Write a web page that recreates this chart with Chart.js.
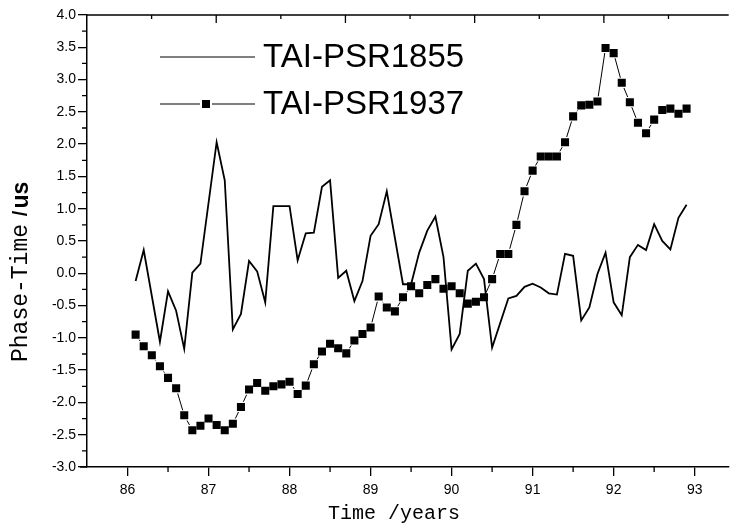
<!DOCTYPE html>
<html><head><meta charset="utf-8">
<script src="https://cdn.jsdelivr.net/npm/chart.js@4.4.1/dist/chart.umd.min.js"></script>
<style>html,body{margin:0;padding:0;background:#fff;overflow:hidden}#c{display:block}</style>
</head><body>
<canvas id="c" width="736" height="526"></canvas>
<script>
const seriesNames = ['TAI-PSR1855', 'TAI-PSR1937'];
const xTitle = 'Time /years';
const yTitleMain = 'Phase-Time ';
const yTitleSlash = '/';
const yTitleUnit = 'us';

const psr1855Years = [86.1,86.2,86.4,86.5,86.6,86.7,86.8,86.9,87.1,87.2,87.3,87.4,87.5,87.6,87.7,87.8,88.0,88.1,88.2,88.3,88.4,88.5,88.6,88.7,88.8,88.9,89.0,89.1,89.2,89.4,89.5,89.6,89.7,89.8,89.9,90.0,90.1,90.2,90.3,90.4,90.5,90.7,90.8,90.9,91.0,91.1,91.2,91.3,91.4,91.5,91.6,91.7,91.8,91.9,92.0,92.1,92.2,92.3,92.4,92.5,92.6,92.7,92.8,92.9];
const psr1855Values = [-0.12,0.36,-1.06,-0.28,-0.58,-1.17,0.01,0.15,2.03,1.44,-0.87,-0.63,0.19,0.03,-0.45,1.04,1.04,0.20,0.62,0.63,1.34,1.44,-0.07,0.04,-0.43,-0.12,0.58,0.76,1.27,-0.17,-0.17,0.32,0.66,0.88,0.25,-1.18,-0.94,0.04,0.15,-0.09,-1.15,-0.39,-0.35,-0.21,-0.16,-0.22,-0.31,-0.33,0.30,0.27,-0.73,-0.53,-0.01,0.32,-0.45,-0.65,0.25,0.44,0.36,0.76,0.50,0.37,0.86,1.06];

const psr1937Years = [86.1,86.2,86.3,86.4,86.5,86.6,86.7,86.8,86.9,87.0,87.1,87.2,87.3,87.4,87.5,87.6,87.7,87.8,87.9,88.0,88.1,88.2,88.3,88.4,88.5,88.6,88.7,88.8,88.9,89.0,89.1,89.2,89.3,89.4,89.5,89.6,89.7,89.8,89.9,90.0,90.1,90.2,90.3,90.4,90.5,90.6,90.7,90.8,90.9,91.0,91.1,91.2,91.3,91.4,91.5,91.6,91.7,91.8,91.9,92.0,92.1,92.2,92.3,92.4,92.5,92.6,92.7,92.8,92.9];
const psr1937Values = [-0.95,-1.13,-1.27,-1.44,-1.62,-1.78,-2.20,-2.43,-2.36,-2.25,
  -2.35,-2.43,-2.33,-2.07,-1.80,-1.70,-1.82,-1.75,-1.72,-1.68,
  -1.87,-1.74,-1.41,-1.21,-1.09,-1.16,-1.24,-1.04,-0.94,-0.84,
  -0.36,-0.53,-0.59,-0.37,-0.20,-0.31,-0.18,-0.09,-0.24,-0.20,
  -0.31,-0.47,-0.44,-0.37,-0.09,0.30,0.30,0.75,1.27,1.59,
  1.81,1.81,1.81,2.03,2.43,2.60,2.61,2.66,3.49,3.41,
  2.95,2.65,2.33,2.17,2.38,2.53,2.55,2.47,2.55];

const xTickValues = [86,87,88,89,90,91,92,93];
const xMinorTickValues = [86.5,87.5,88.5,89.5,90.5,91.5,92.5];
const yTickValues = [-3.0,-2.5,-2.0,-1.5,-1.0,-0.5,0.0,0.5,1.0,1.5,2.0,2.5,3.0,3.5,4.0];
const yMinorTickValues = [-2.75,-2.25,-1.75,-1.25,-0.75,-0.25,0.25,0.75,1.25,1.75,2.25,2.75,3.25,3.75];
const topMajorTicks = [1,2,3,4];
const topMinorTicks = [0.5,1.5,2.5,3.5,4.5];

const data1855 = psr1855Years.map((x, i) => ({x: x, y: psr1855Values[i]}));
const data1937 = psr1937Years.map((x, i) => ({x: x, y: psr1937Values[i]}));

const decor = {
  id: 'decor',
  afterDraw(chart) {
    const ctx = chart.ctx;
    const a = chart.chartArea;
    const xs = chart.scales.x, ys = chart.scales.y, xt = chart.scales.xt;
    ctx.save();
    ctx.strokeStyle = '#000';
    ctx.fillStyle = '#000';
    ctx.lineWidth = 1.5;
    ctx.beginPath();
    ctx.moveTo(a.left - 7, a.bottom); ctx.lineTo(a.left, a.bottom);
    ctx.moveTo(a.left, a.top); ctx.lineTo(a.right, a.top);
    ctx.stroke();
    ctx.lineWidth = 1.3;
    ctx.beginPath();
    const topPx = v => (xt && isFinite(xt.getPixelForValue(v))) ? xt.getPixelForValue(v) : a.left + v * (a.right - a.left) / 4.966;
    topMajorTicks.forEach(v => { const p = topPx(v); ctx.moveTo(p, a.top); ctx.lineTo(p, a.top + 8); });
    topMinorTicks.forEach(v => { const p = topPx(v); if (p < a.right) { ctx.moveTo(p, a.top); ctx.lineTo(p, a.top + 4); } });
    xMinorTickValues.forEach(v => { const p = xs.getPixelForValue(v); ctx.moveTo(p, a.bottom); ctx.lineTo(p, a.bottom + 5); });
    yMinorTickValues.forEach(v => { const p = ys.getPixelForValue(v); ctx.moveTo(a.left - 5, p); ctx.lineTo(a.left, p); });
    ctx.stroke();

    ctx.font = '20px "Liberation Mono"';
    ctx.textAlign = 'center';
    ctx.textBaseline = 'middle';
    ctx.fillText(xTitle, 394, 514);

    ctx.save();
    ctx.translate(21, 362);
    ctx.rotate(-Math.PI / 2);
    ctx.textAlign = 'left';
    ctx.textBaseline = 'middle';
    ctx.font = '23px "Liberation Mono"';
    ctx.fillText(yTitleMain, 0, 0);
    let off = ctx.measureText(yTitleMain).width - 6;
    ctx.font = 'bold 20px "Liberation Sans"';
    ctx.fillText(yTitleSlash, off, 0);
    off += ctx.measureText(yTitleSlash).width + 2;
    ctx.font = 'bold 23px "Liberation Sans"';
    ctx.fillText(yTitleUnit, off, 1);
    ctx.restore();

    ctx.lineWidth = 1.2;
    ctx.beginPath();
    ctx.moveTo(160, 57); ctx.lineTo(255, 57);
    ctx.moveTo(160, 104); ctx.lineTo(200, 104);
    ctx.moveTo(212, 104); ctx.lineTo(255, 104);
    ctx.stroke();
    ctx.fillRect(202, 100, 8, 8);
    ctx.font = '33px "Liberation Sans"';
    ctx.textAlign = 'left';
    ctx.textBaseline = 'middle';
    ctx.fillText(seriesNames[0], 263, 58);
    ctx.fillText(seriesNames[1], 263, 105);
    ctx.restore();
  }
};

new Chart(document.getElementById('c'), {
  type: 'line',
  data: {
    datasets: [
      {label: seriesNames[0], data: data1855, xAxisID: 'x', yAxisID: 'y', borderColor: '#000', borderWidth: 1.8, pointRadius: 0, tension: 0, order: 2},
      {label: seriesNames[1] + ' gap', data: data1937, xAxisID: 'x', yAxisID: 'y', borderColor: '#000', borderWidth: 1, pointStyle: 'rect', pointRadius: 7.3, pointBackgroundColor: '#fff', pointBorderWidth: 0, tension: 0, order: 3},
      {label: seriesNames[1], data: data1937, xAxisID: 'x', yAxisID: 'y', showLine: false, pointStyle: 'rect', pointRadius: 5.7, pointBackgroundColor: '#000', pointBorderWidth: 0, order: 1}
    ]
  },
  options: {
    responsive: false,
    animation: false,
    layout: {padding: {top: 15, left: 0, right: 0, bottom: 0}},
    plugins: {legend: {display: false}, tooltip: {enabled: false}},
    scales: {
      x: {
        type: 'linear', position: 'bottom', min: 85.5, max: 93.42,
        afterBuildTicks: s => { s.ticks = xTickValues.map(v => ({value: v})); },
        afterFit: s => { s.height = 59; },
        ticks: {color: '#000', font: {family: 'Liberation Sans', size: 14}, padding: 6, maxRotation: 0, autoSkip: false, callback: v => String(v)},
        grid: {display: true, drawOnChartArea: false, drawTicks: true, tickLength: 9, color: '#000', lineWidth: 1.3},
        border: {display: true, color: '#000', width: 1.5}
      },
      xt: {type: 'linear', position: 'top', min: 0, max: 4.966, display: false},
      y: {
        type: 'linear', position: 'left', min: -3, max: 4,
        afterBuildTicks: s => { s.ticks = yTickValues.map(v => ({value: v})); },
        afterFit: s => { s.width = 87; },
        ticks: {color: '#000', font: {family: 'Liberation Sans', size: 14}, padding: 2, autoSkip: false, callback: v => Number(v).toFixed(1)},
        grid: {display: true, drawOnChartArea: false, drawTicks: true, tickLength: 9, color: '#000', lineWidth: 1.3},
        border: {display: true, color: '#000', width: 1.5}
      }
    }
  },
  plugins: [decor]
});
</script>
</body></html>
